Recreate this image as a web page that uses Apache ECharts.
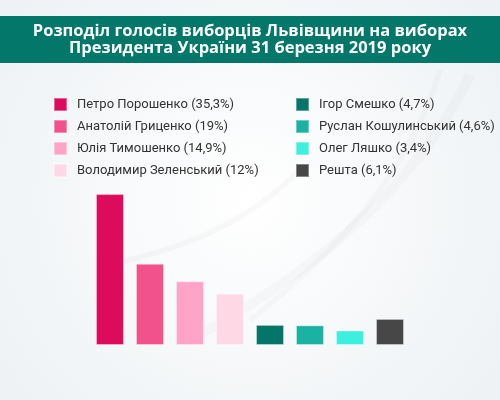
<!DOCTYPE html>
<html>
<head>
<meta charset="utf-8">
<script src="https://cdn.jsdelivr.net/npm/echarts@6/dist/echarts.min.js"></script>
<style>
  html, body { margin: 0; padding: 0; }
  #chart { width: 500px; height: 400px; }
</style>
</head>
<body>
<div id="chart"></div>
<script>
var candidates = ['Петро Порошенко', 'Анатолій Гриценко', 'Юлія Тимошенко', 'Володимир Зеленський',
                  'Ігор Смешко', 'Руслан Кошулинський', 'Олег Ляшко', 'Решта'];
var votes = [35.3, 19, 14.9, 12, 4.7, 4.6, 3.4, 6.1];
var colors = ['#dc0b5b', '#f2528b', '#ffa4c7', '#ffd8e6', '#037569', '#19b2a3', '#3bf0de', '#474747'];

var titleText = 'Розподіл голосів виборців Львівщини на виборах\nПрезидента України 31 березня 2019 року';

// "35.3" -> "35,3"
function pct(v) {
    return String(v).replace('.', ',') + '%';
}

var myChart = echarts.init(document.getElementById('chart'));

var series = [];
for (var i = 0; i < candidates.length; i++) {
    var d = [];
    for (var j = 0; j < candidates.length; j++) {
        d.push(j == i ? votes[i] : '-');
    }
    series.push({
        name: candidates[i],
        type: 'bar',
        barWidth: 28,
        barGap: '-100%',
        itemStyle: {
            color: colors[i],
            borderColor: 'rgba(255,255,255,0.35)',
            borderWidth: 1
        },
        silent: true,
        data: d
    });
}

var legendBase = {
    orient: 'vertical',
    top: 97,
    padding: 0,
    itemWidth: 13,
    itemHeight: 13,
    itemGap: 7,
    icon: 'rect',
    selectedMode: false,
    textStyle: {
        fontFamily: 'Roboto',
        fontSize: 13,
        color: '#333',
        padding: [0, 0, 0, 5]
    },
    formatter: function(name) {
        return name + ' (' + pct(votes[candidates.indexOf(name)]) + ')';
    }
};

option = {
    backgroundColor: {
        type: 'radial', x: 0.5, y: 0.5, r: 0.75,
        colorStops: [{offset: 0, color: '#ffffff'}, {offset: 1, color: '#eef2f5'}]
    },
    animation: false,
    graphic: [
        /* фонові дуги */
        {
            type: 'bezierCurve', silent: true, z: -10,
            shape: {x1: 120, y1: 262, x2: 300, y2: 170, cpx1: 220, cpy1: 240, cpx2: 270, cpy2: 200},
            style: {stroke: 'rgba(0,0,0,0.025)', lineWidth: 6, fill: null}
        },
        {
            type: 'bezierCurve', silent: true, z: -10,
            shape: {x1: 190, y1: 340, x2: 470, y2: 75, cpx1: 320, cpy1: 270, cpx2: 420, cpy2: 180},
            style: {stroke: 'rgba(0,0,0,0.02)', lineWidth: 10, fill: null}
        },
        {
            type: 'bezierCurve', silent: true, z: -10,
            shape: {x1: 250, y1: 320, x2: 440, y2: 70, cpx1: 340, cpy1: 250, cpx2: 410, cpy2: 170},
            style: {stroke: 'rgba(0,0,0,0.018)', lineWidth: 6, fill: null}
        },
        /* зелена смуга під заголовком */
        {
            type: 'rect', silent: true, z: -1,
            shape: {x: 0, y: 16, width: 500, height: 47},
            style: {fill: '#03786a'}
        }
    ],
    title: {
        text: titleText,
        left: 'center',
        top: 23,
        padding: 0,
        textStyle: {
            color: '#ffffff',
            fontFamily: 'Open Sans',
            fontWeight: 'bold',
            fontSize: 16.5,
            lineHeight: 17
        }
    },
    legend: [
        Object.assign({}, legendBase, {left: 53, data: candidates.slice(0, 4)}),
        Object.assign({}, legendBase, {left: 295, data: candidates.slice(4)})
    ],
    grid: {
        left: 90,
        width: 320,
        top: 174,
        bottom: 55
    },
    xAxis: {
        type: 'category',
        data: candidates,
        show: false
    },
    yAxis: {
        type: 'value',
        min: 0,
        max: 40,
        show: false
    },
    series: series
};
myChart.setOption(option);
</script>
</body>
</html>
